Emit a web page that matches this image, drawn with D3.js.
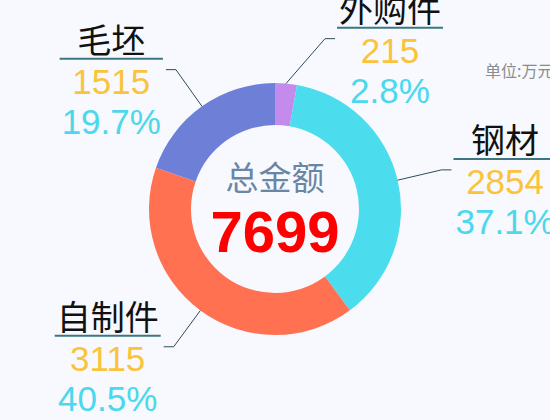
<!DOCTYPE html>
<html>
<head>
<meta charset="utf-8">
<script src="https://cdn.jsdelivr.net/npm/d3@7/dist/d3.min.js"></script>
<style>
html,body{margin:0;padding:0;background:#f7f9fe;overflow:hidden;}
svg{display:block;}
text{font-family:"Liberation Sans",Arial,"Noto Sans CJK SC",sans-serif;}
</style>
</head>
<body>
<svg id="chart" width="550" height="420"></svg>
<script>
const categories = ["外购件", "钢材", "自制件", "毛坯"];
const values = [215, 2854, 3115, 1515];
const colors = ["#c38bec", "#4bdcee", "#ff7150", "#6e7fd8"];
const centerTitle = "总金额";
const unitLabel = "单位:万元";

const W = 550, H = 420;
const cx = 275, cy = 209;
const outerR = 126, innerR = 84;
const len1 = 45, len2 = 10, minDx = 50;

const total = d3.sum(values);
const pctFmt = d3.format(".1f");
const data = categories.map((c, i) => ({name: c, value: values[i], color: colors[i]}));

const svg = d3.select("#chart");
svg.append("rect").attr("width", W).attr("height", H).attr("fill", "#f7f9fe");

const g = svg.append("g").attr("transform", `translate(${cx},${cy})`);

const pie = d3.pie().sort(null).value(d => d.value).startAngle(0).endAngle(2 * Math.PI);
const arcs = pie(data);
const arc = d3.arc().innerRadius(innerR).outerRadius(outerR);

g.selectAll("path.slice").data(arcs).join("path")
  .attr("class", "slice")
  .attr("d", arc)
  .attr("fill", d => d.data.color);

// center text
g.append("text").attr("x", 0).attr("y", -19).attr("text-anchor", "middle")
  .attr("font-size", 33).attr("fill", "#6a86a6")
  .style("font-family", '"Noto Sans CJK SC",sans-serif')
  .text(centerTitle);
g.append("text").attr("x", 0).attr("y", 43).attr("text-anchor", "middle")
  .attr("font-size", 58).attr("font-weight", "bold").attr("fill", "#ff0000")
  .text(total);

// unit
svg.append("text").attr("x", 485).attr("y", 77)
  .attr("font-size", 16).attr("fill", "#8c8c8c")
  .style("font-family", '"Noto Sans CJK SC",sans-serif')
  .text(unitLabel);

const polar = (a, r) => [Math.sin(a) * r, -Math.cos(a) * r];

arcs.forEach(d => {
  const mid = (d.startAngle + d.endAngle) / 2;
  const p0 = polar(mid, outerR);
  const p1 = polar(mid, outerR + len1);
  const side = p1[0] >= 0 ? 1 : -1;
  if (Math.abs(p1[0]) < minDx) p1[0] = side * minDx;
  const p2 = [p1[0] + side * len2, p1[1]];

  g.append("path")
    .attr("d", d3.line()([p0, p1, p2]))
    .attr("fill", "none").attr("stroke", "#2f4b57").attr("stroke-width", 1);

  const lg = g.append("g");
  const nameT = lg.append("text").attr("text-anchor", "middle")
    .attr("font-size", 34).attr("fill", "#111")
    .style("font-family", '"Noto Sans CJK SC",sans-serif')
    .attr("y", p2[1] - 17).text(d.data.name);
  const valT = lg.append("text").attr("text-anchor", "middle")
    .attr("font-size", 35).attr("fill", "#fbc33c")
    .attr("y", p2[1] + 24).text(d.data.value);
  const pctT = lg.append("text").attr("text-anchor", "middle")
    .attr("font-size", 35).attr("fill", "#4bd8ec")
    .attr("y", p2[1] + 64).text(pctFmt(d.data.value / total * 100) + "%");

  const w = d3.max([nameT, valT, pctT], t => t.node().getComputedTextLength()) + 4;
  const left = side > 0 ? p2[0] + 2 : p2[0] - 3 - w;
  const mx = left + w / 2;
  [nameT, valT, pctT].forEach(t => t.attr("x", mx));
  lg.append("line")
    .attr("x1", left).attr("x2", left + w)
    .attr("y1", p2[1] - 11).attr("y2", p2[1] - 11)
    .attr("stroke", "#3c7780").attr("stroke-width", 2);
});
</script>
</body>
</html>
